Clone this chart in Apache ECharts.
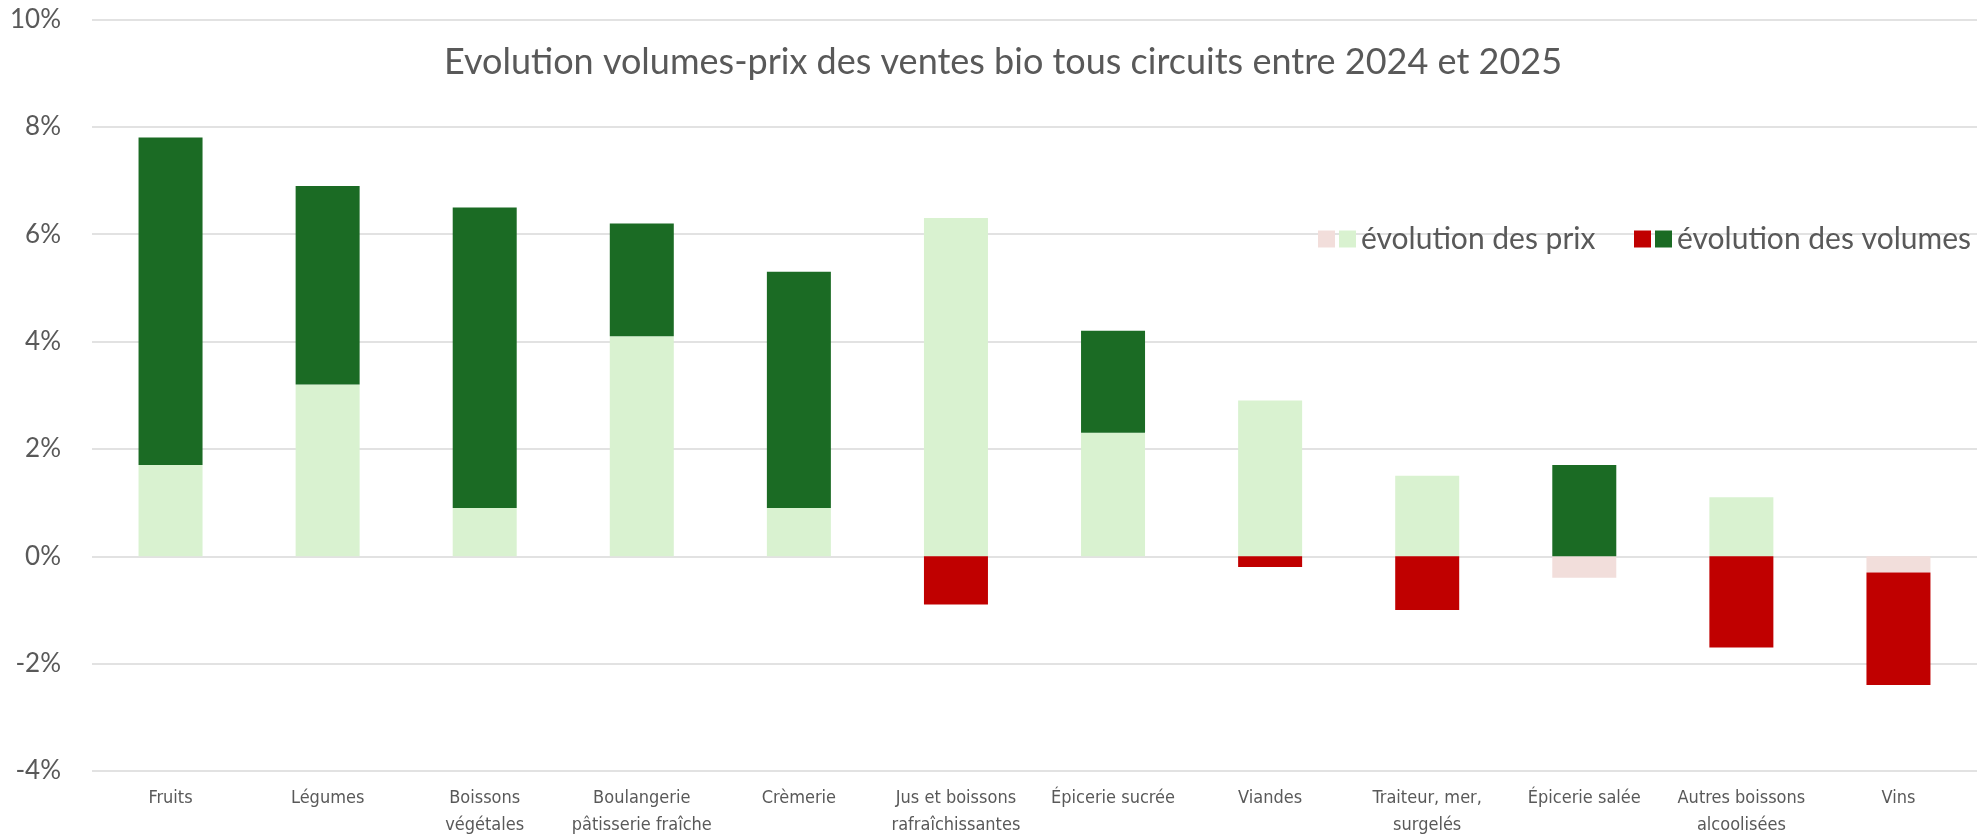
<!DOCTYPE html>
<html lang="fr">
<head>
  <meta charset="UTF-8">
  <title>Evolution volumes-prix</title>
  <script src="https://cdn.jsdelivr.net/npm/echarts@6/dist/echarts.min.js"></script>
  <style>
    html, body { margin: 0; padding: 0; background: #fff; }
  </style>
</head>
<body>
<div id="main" style="width: 1978px;height:839px;"></div>
<script type="text/javascript">

const categories = [
  'Fruits', 'Légumes', 'Boissons\nvégétales', 'Boulangerie\npâtisserie fraîche', 'Crèmerie',
  'Jus et boissons\nrafraîchissantes', 'Épicerie sucrée', 'Viandes', 'Traiteur, mer,\nsurgelés',
  'Épicerie salée', 'Autres boissons\nalcoolisées', 'Vins'
];
// évolution des prix (%)
const prix = [1.7, 3.2, 0.9, 4.1, 0.9, 6.3, 2.3, 2.9, 1.5, -0.4, 1.1, -0.3];
// évolution des volumes (%)
const volumes = [6.1, 3.7, 5.6, 2.1, 4.4, -0.9, 1.9, -0.2, -1.0, 1.7, -1.7, -2.1];
const yTicks = [-4, 10, 2];

const pos = arr => arr.map(v => (v >= 0 ? v : '-'));
const neg = arr => arr.map(v => (v < 0 ? v : '-'));

const FONT = 'Lato, "Open Sans", sans-serif';
const GREY = '#595959';

const myChart = echarts.init(document.getElementById('main'));

const legendText = function (name) {
  return name.indexOf('(baisse)') >= 0 ? '' : name;
};

const option = {
  animation: false,
  title: {
    text: 'Evolution volumes-prix des ventes bio tous circuits entre 2024 et 2025',
    left: 1003,
    textAlign: 'center',
    top: 44,
    padding: 0,
    textStyle: {fontFamily: FONT, fontSize: 36, fontWeight: 'normal', color: GREY}
  },
  legend: [
    {
      data: ['prix (baisse)', 'évolution des prix'],
      left: 1318,
      top: 224,
      padding: 0,
      itemWidth: 17,
      itemHeight: 17,
      itemGap: 4,
      icon: 'rect',
      formatter: legendText,
      textStyle: {fontFamily: FONT, fontSize: 30, color: GREY}
    },
    {
      data: ['volumes (baisse)', 'évolution des volumes'],
      left: 1634,
      top: 224,
      padding: 0,
      itemWidth: 17,
      itemHeight: 17,
      itemGap: 4,
      icon: 'rect',
      formatter: legendText,
      textStyle: {fontFamily: FONT, fontSize: 30, color: GREY}
    }
  ],
  grid: {left: 92, right: 1, top: 19.5, bottom: 63, containLabel: false},
  xAxis: {
    type: 'category',
    data: categories,
    axisLine: {show: false, onZero: false},
    axisTick: {show: false},
    axisLabel: {
      interval: 0,
      margin: 14,
      fontFamily: '"Liberation Sans Narrow", "DejaVu Sans Condensed", sans-serif',
      fontSize: 18,
      lineHeight: 27,
      color: GREY
    }
  },
  yAxis: {
    type: 'value',
    min: yTicks[0],
    max: yTicks[1],
    interval: yTicks[2],
    axisLine: {show: false},
    axisTick: {show: false},
    splitLine: {lineStyle: {color: '#D9D9D9', width: 1.5}},
    axisLabel: {
      formatter: '{value}%',
      margin: 31,
      fontFamily: FONT,
      fontSize: 26,
      color: GREY
    }
  },
  series: [
    {
      name: 'évolution des prix',
      type: 'bar',
      stack: 'total',
      barWidth: 64,
      itemStyle: {color: '#D9F2D0'},
      data: pos(prix)
    },
    {
      name: 'prix (baisse)',
      type: 'bar',
      stack: 'total',
      barWidth: 64,
      itemStyle: {color: '#F2DEDB'},
      data: neg(prix)
    },
    {
      name: 'évolution des volumes',
      type: 'bar',
      stack: 'total',
      barWidth: 64,
      itemStyle: {color: '#1B6B24'},
      data: pos(volumes)
    },
    {
      name: 'volumes (baisse)',
      type: 'bar',
      stack: 'total',
      barWidth: 64,
      itemStyle: {color: '#C00000'},
      data: neg(volumes)
    }
  ]
};
myChart.setOption(option);
</script>
</body>
</html>
